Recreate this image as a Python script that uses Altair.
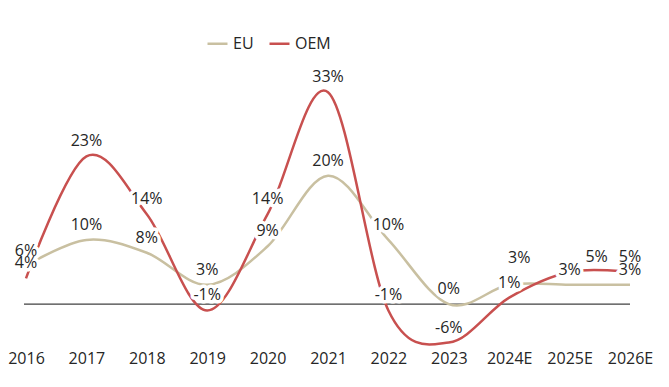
import altair as alt
import pandas as pd

years = ["2016", "2017", "2018", "2019", "2020", "2021", "2022", "2023", "2024E", "2025E", "2026E"]
eu = [6, 10, 8, 3, 9, 20, 10, 0, 3, 3, 3]
oem = [4, 23, 14, -1, 14, 33, -1, -6, 1, 5, 5]
series = ["EU", "OEM"]
colors = ["#C9C0A1", "#C8504F"]

rows = []
for name, vals in zip(series, [eu, oem]):
    for y, v in zip(years, vals):
        rows.append({"year": y, "series": name, "value": v, "label": f"{v}%"})
df = pd.DataFrame(rows)

FONT = "Open Sans"
FS = 16
TXT = "#262626"
W, H = 604, 276

x = alt.X("year:N", sort=years, scale=alt.Scale(type="point", padding=0),
          axis=alt.Axis(title=None, labelAngle=0, ticks=False, domain=False, grid=False,
                        labelPadding=1, labelFontSize=FS, labelFont=FONT, labelColor=TXT))
y = alt.Y("value:Q", scale=alt.Scale(domain=[-7, 36], nice=False, zero=False), axis=None)

base = alt.Chart(df)

zero = alt.Chart(pd.DataFrame({"v": [0]})).mark_rule(color="#404040", strokeWidth=1.2).encode(
    y=alt.Y("v:Q", scale=alt.Scale(domain=[-7, 36], nice=False, zero=False), axis=None),
    x=alt.value(-2), x2=alt.value(W))

lines = base.mark_line(interpolate="cardinal", strokeWidth=2.5).encode(
    x=x, y=y,
    color=alt.Color("series:N", scale=alt.Scale(domain=series, range=colors),
                    legend=alt.Legend(title=None, orient="none", direction="horizontal",
                                      legendX=180, legendY=-41, symbolType="stroke",
                                      symbolSize=400, symbolStrokeWidth=2.5,
                                      labelFont=FONT, labelFontSize=FS, labelColor=TXT,
                                      labelOffset=4, columnPadding=10)))

normal = "!((datum.series == 'EU' && datum.year == '2024E') || (datum.series == 'OEM' && datum.year == '2025E'))"
special_eu = "datum.series == 'EU' && datum.year == '2024E'"
special_oem = "datum.series == 'OEM' && datum.year == '2025E'"

def label_layers(flt, dx, dy):
    halo = base.transform_filter(flt).mark_text(
        font=FONT, fontSize=FS, dx=dx, dy=dy, fill="white", stroke="white",
        strokeWidth=7, strokeJoin="round").encode(x=x, y=y, text="label:N")
    txt = base.transform_filter(flt).mark_text(
        font=FONT, fontSize=FS, dx=dx, dy=dy, color=TXT).encode(x=x, y=y, text="label:N")
    return halo, txt

h1, t1 = label_layers(normal, 0, -15)
h2, t2 = label_layers(special_eu, 10, -27)
h3, t3 = label_layers(special_oem, 27, -15)

chart = alt.layer(zero, lines, h1, h2, h3, t1, t2, t3).properties(
    width=W, height=H, autosize=alt.AutoSizeParams(type="none"),
    padding={"left": 18, "top": 65, "right": 30, "bottom": 30},
    background="white"
).configure_view(strokeWidth=0, stroke="transparent")

chart.save("out.html", embed_options={"renderer": "svg", "actions": False})
